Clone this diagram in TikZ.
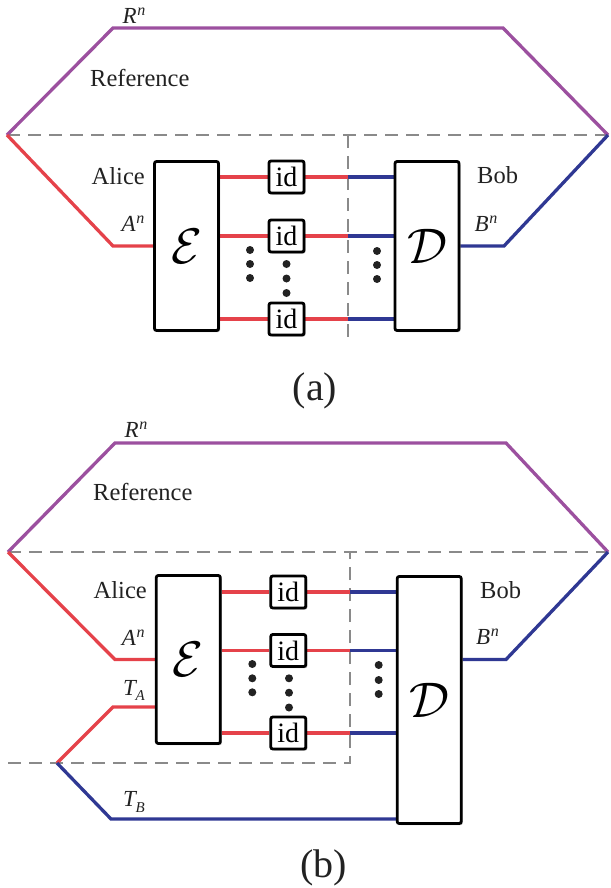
\documentclass[tikz,border=0pt]{standalone}
\usepackage{fix-cm}
\usepackage{fontspec}
\setmainfont{Liberation Serif}
\usetikzlibrary{shadows}
\definecolor{qred}{HTML}{E5424A}
\definecolor{qblue}{HTML}{2F3893}
\definecolor{qpurple}{HTML}{9C509F}
\definecolor{qgray}{HTML}{8A8A8A}
\definecolor{qtext}{HTML}{222222}
\pgfdeclarelayer{bg}
\pgfsetlayers{bg,main}
\newcommand\qsup[1]{\textit{#1}\kern0.5pt\raisebox{0.36em}{\fontsize{16}{16}\selectfont\textit{n}}}
\newcommand\qsub[1]{\textit{T}\kern-1.5pt\raisebox{-0.22em}{\fontsize{15}{15}\selectfont\textit{#1}}}
\tikzset{
 wire/.style={line width=3.3pt},
 rw/.style={wire,draw=qred},
 bw/.style={wire,draw=qblue},
 pw/.style={wire,draw=qpurple,line join=miter},
 part/.style={draw=qgray,line width=2.3pt,dash pattern=on 13pt off 8pt},
 chan/.style={draw=black,fill=white,line width=2.8pt,rounded corners=2pt,
   drop shadow={shadow xshift=1.5pt,shadow yshift=-1.5pt,opacity=0.3,fill=black}},
 bigbox/.style={chan,minimum width=64pt,inner sep=0pt,font=\fontsize{50}{50}\selectfont},
 idbox/.style={chan,minimum width=35pt,minimum height=32pt,inner sep=0pt,font=\fontsize{28}{28}\selectfont},
 lbl/.style={font=\fontsize{24.5}{28}\selectfont,text=qtext,inner sep=0pt},
 sym/.style={font=\fontsize{23}{24}\selectfont,text=qtext,inner sep=0pt},
 captxt/.style={font=\fontsize{40}{44}\selectfont,text=qtext,inner sep=0pt},
 dot/.style={circle,fill=qtext,inner sep=0pt,minimum size=8pt},
}
\begin{document}
\begin{tikzpicture}[x=1pt,y=-1pt]
\useasboundingbox (0,0) rectangle (610,888);

% ---------------- panel (a) ----------------
\node[bigbox,minimum height=169pt] (E1) at (186.5,246) {$\mathcal{E}$};
\node[bigbox,minimum height=169pt] (D1) at (427,246) {$\mathcal{D}$};
\node[idbox] (i11) at (286.5,177) {id};
\node[idbox] (i12) at (286.5,236) {id};
\node[idbox] (i13) at (286.5,319) {id};
\coordinate (L1) at (7,135);
\coordinate (R1) at (608,135);
\coordinate (TL1) at (113,28);
\coordinate (TR1) at (503,28);
\coordinate (AL1) at (113,246);
\coordinate (BR1) at (504,246);
\coordinate (s11) at (348,177);
\coordinate (s12) at (348,236);
\coordinate (s13) at (348,319);
\coordinate (v1t) at (348,135);
\coordinate (v1b) at (348,342);
\begin{pgfonlayer}{bg}
\draw[part] (L1) -- (R1);
\draw[part] (v1t) -- (v1b);
\draw[pw] (L1) -- (TL1) -- (TR1) -- (R1);
\draw[rw] (L1) -- (AL1) -- (E1.west);
\draw[bw] (R1) -- (BR1) -- (D1.east);
\draw[rw] (E1.east |- i11) -- (i11.west);
\draw[rw] (i11.east) -- (s11);
\draw[bw] (s11) -- (D1.west |- s11);
\draw[rw] (E1.east |- i12) -- (i12.west);
\draw[rw] (i12.east) -- (s12);
\draw[bw] (s12) -- (D1.west |- s12);
\draw[rw] (E1.east |- i13) -- (i13.west);
\draw[rw] (i13.east) -- (s13);
\draw[bw] (s13) -- (D1.west |- s13);
\end{pgfonlayer}
\node[dot] (d111) at (250,250) {};
\node[dot] (d112) at (250,264) {};
\node[dot] (d113) at (250,278) {};
\node[dot] (d121) at (286.5,264) {};
\node[dot] (d122) at (286.5,278.5) {};
\node[dot] (d123) at (286.5,293) {};
\node[dot] (d131) at (377,251) {};
\node[dot] (d132) at (377,265) {};
\node[dot] (d133) at (377,279) {};
\node[sym] (Rn1) at (134,16) {\qsup{R}};
\node[lbl,anchor=west] (ref1) at (90,78) {Reference};
\node[lbl,anchor=east] (al1) at (145,176) {Alice};
\node[sym] (An1) at (133,224) {\qsup{A}};
\node[lbl,anchor=west] (bob1) at (477,175) {Bob};
\node[sym] (Bn1) at (486,224) {\qsup{B}};
\node[captxt] (ca) at (315,391) {(a)};

% ---------------- panel (b) ----------------
\node[bigbox,minimum height=168pt] (E2) at (188.3,659.5) {$\mathcal{E}$};
\node[bigbox,minimum height=247pt] (D2) at (429.2,700) {$\mathcal{D}$};
\node[idbox] (i21) at (288.3,592) {id};
\node[idbox] (i22) at (288.3,650.5) {id};
\node[idbox] (i23) at (288.3,733) {id};
\coordinate (L2) at (8,552);
\coordinate (R2) at (608,552);
\coordinate (TL2) at (115,443);
\coordinate (TR2) at (506,443);
\coordinate (AL2) at (115,659.5);
\coordinate (BR2) at (506,659.5);
\coordinate (TA2) at (113,707);
\coordinate (J2) at (57,763);
\coordinate (TB2) at (111,819);
\coordinate (s21) at (350,592);
\coordinate (s22) at (350,650.5);
\coordinate (s23) at (350,733);
\coordinate (dl2) at (8,763);
\coordinate (dc2) at (350,763);
\coordinate (dt2) at (350,552);
\begin{pgfonlayer}{bg}
\draw[part] (L2) -- (R2);
\draw[part] (dl2) -- (dc2) -- (dt2);
\draw[pw] (L2) -- (TL2) -- (TR2) -- (R2);
\draw[rw] (L2) -- (AL2) -- (E2.west);
\draw[bw] (R2) -- (BR2) -- (D2.east |- BR2);
\draw[rw] (E2.west |- TA2) -- (TA2) -- (J2);
\draw[bw] (J2) -- (TB2) -- (D2.west |- TB2);
\draw[rw] (E2.east |- i21) -- (i21.west);
\draw[rw] (i21.east) -- (s21);
\draw[bw] (s21) -- (D2.west |- s21);
\draw[rw] (E2.east |- i22) -- (i22.west);
\draw[rw] (i22.east) -- (s22);
\draw[bw] (s22) -- (D2.west |- s22);
\draw[rw] (E2.east |- i23) -- (i23.west);
\draw[rw] (i23.east) -- (s23);
\draw[bw] (s23) -- (D2.west |- s23);
\end{pgfonlayer}
\node[dot] (d211) at (252.3,664) {};
\node[dot] (d212) at (252.3,678.3) {};
\node[dot] (d213) at (252.3,692.3) {};
\node[dot] (d221) at (289,678.3) {};
\node[dot] (d222) at (289,692.7) {};
\node[dot] (d223) at (289,707.5) {};
\node[dot] (d231) at (378.7,665) {};
\node[dot] (d232) at (378.7,680) {};
\node[dot] (d233) at (378.7,694) {};
\node[sym] (Rn2) at (136,430) {\qsup{R}};
\node[lbl,anchor=west] (ref2) at (93,492) {Reference};
\node[lbl,anchor=east] (al2) at (147,590) {Alice};
\node[sym] (An2) at (133.3,638) {\qsup{A}};
\node[sym] (Ta2) at (134,690) {\qsub{A}};
\node[sym] (Tb2) at (134,802) {\qsub{B}};
\node[lbl,anchor=west] (bob2) at (480,590) {Bob};
\node[sym] (Bn2) at (487.5,637) {\qsup{B}};
\node[captxt] (cb) at (323.5,868) {(b)};
\end{tikzpicture}
\end{document}
